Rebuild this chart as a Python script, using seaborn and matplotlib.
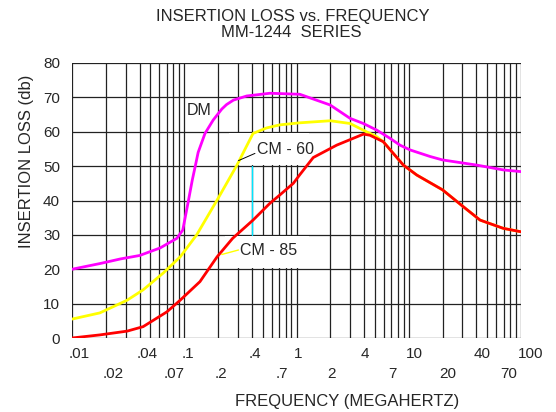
import pandas as pd
import seaborn as sns
import matplotlib.pyplot as plt
from matplotlib.transforms import ScaledTranslation

# values (frequency in MHz, loss in dB)
dm_freq = [0.01, 0.018, 0.027, 0.04, 0.061, 0.086, 0.097, 0.109, 0.118, 0.125, 0.133, 0.153,
           0.181, 0.216, 0.238, 0.274, 0.36, 0.58, 1.07, 1.99, 3.0, 3.94, 5.17, 6.8, 8.36,
           10.3, 15.5, 20, 40.3, 69.5, 100]
dm_loss = [20, 21.7, 23, 24, 26.2, 29, 31.4, 40, 46, 49.8, 54, 59.5,
           63.4, 66.6, 67.9, 69.2, 70.4, 71.2, 70.9, 67.8, 63.9, 62.4, 60.5, 58.1, 56.1,
           54.7, 52.8, 51.8, 50.3, 48.9, 48.4]

cm60_freq = [0.01, 0.0177, 0.031, 0.043, 0.065, 0.092, 0.129, 0.196, 0.295, 0.345, 0.41, 0.54,
             0.71, 1.07, 2.0, 3.0, 4.2, 5.17, 5.93, 8.95, 11.8, 20, 30.6, 43.2, 69.5, 100]
cm60_loss = [5.5, 7.3, 11, 14, 18.9, 23.6, 30, 40.1, 50.3, 54.7, 59.5, 61.1,
             62, 62.6, 63.2, 62.4, 60, 58.6, 57.1, 50.3, 47.4, 43.1, 38.2, 34.3, 31.9, 30.9]

cm85_freq = [0.01, 0.0177, 0.031, 0.043, 0.07, 0.092, 0.138, 0.196, 0.27, 0.41, 0.58, 0.71,
             0.937, 1.07, 1.41, 2.28, 3.94, 4.5, 5.93, 8.95, 11.8, 20, 30.6, 43.2, 69.5, 100]
cm85_loss = [0, 0.9, 2, 3.3, 7.6, 11, 16.4, 23.6, 29, 34.3, 39.2, 41.6,
             45, 47.5, 52.5, 56.1, 59.3, 59, 57.1, 50.3, 47.4, 43.1, 38.2, 34.3, 31.9, 30.9]

series_names = ["DM", "CM - 60", "CM - 85"]
series_colors = ["#ff00ff", "#ffff00", "#ff0000"]

top_ticks = [0.01, 0.04, 0.1, 0.4, 1, 4, 10, 40, 100]
top_labels = [".01", ".04", ".1", ".4", "1", "4", "10", "40", "100"]
bottom_ticks = [0.02, 0.07, 0.2, 0.7, 2, 7, 20, 70]
bottom_labels = [".02", ".07", ".2", ".7", "2", "7", "20", "70"]
y_ticks = list(range(0, 81, 10))

# label boxes (white patches that hide the grid behind the series labels)
box60_x, box60_y = [0.25, 1.3], [50.4, 59.6]
box85_x, box85_y = [0.23, 1.3], [20.4, 29.6]
cyan_x, cyan_y = [0.4, 0.4], [30, 50]
lead60_x, lead60_y = [0.304, 0.4265], [51.6, 53.7]
lead85_x, lead85_y = [0.216, 0.304], [24.3, 25.6]

df = pd.concat([
    pd.DataFrame({"freq": dm_freq, "loss": dm_loss, "series": "DM"}),
    pd.DataFrame({"freq": cm60_freq, "loss": cm60_loss, "series": "CM - 60"}),
    pd.DataFrame({"freq": cm85_freq, "loss": cm85_loss, "series": "CM - 85"}),
])

sns.set_style("white")
plt.rcParams["font.family"] = ["Liberation Sans", "DejaVu Sans"]

fig = plt.figure(figsize=(5.56, 4.12), dpi=100)
ax = fig.add_axes([72 / 556, 1 - 338 / 412, 449 / 556, 275 / 412])
ax.set_xscale("log")

# grid: every 1..9 multiple per decade
for dec in [0.01, 0.1, 1, 10]:
    for m in range(1, 10):
        ax.axvline(dec * m, color="#222222", lw=0.9, zorder=1)
ax.axvline(100, color="#222222", lw=0.9, zorder=1)
for yv in y_ticks:
    ax.axhline(yv, color="#222222", lw=0.9, zorder=1)

ax.fill_between(box60_x, box60_y[0], box60_y[1], color="white", lw=0, zorder=1.5)
ax.fill_between(box85_x, box85_y[0], box85_y[1], color="white", lw=0, zorder=1.5)
ax.plot(cyan_x, cyan_y, color="#00e5ff", lw=1.0, zorder=2)

sns.lineplot(data=df, x="freq", y="loss", hue="series", hue_order=series_names,
             palette=series_colors, estimator=None, sort=False, legend=False,
             lw=2.0, ax=ax, zorder=3)

ax.plot(lead60_x, lead60_y, color="black", lw=0.7, zorder=4)
ax.plot(lead85_x, lead85_y, color="#ffff00", lw=1.0, zorder=4)
ax.text(0.105, 66.2, "DM", fontsize=11.5, va="center", ha="left", zorder=5)
ax.text(0.442, 54.9, "CM - 60", fontsize=11.5, va="center", ha="left", zorder=5)
ax.text(0.314, 25.5, "CM - 85", fontsize=11.5, va="center", ha="left", zorder=5)

ax.set_xlim(0.01, 100)
ax.set_ylim(0, 80)
ax.set_xticks(top_ticks, labels=top_labels)
ax.set_xticks(bottom_ticks, labels=bottom_labels, minor=True)
ax.set_yticks(y_ticks)
ax.tick_params(axis="x", which="major", length=5.8, width=1, color="#404040",
               labelsize=11, pad=0.5)
ax.tick_params(axis="x", which="minor", length=20.7, width=1, color="#404040",
               labelsize=11, pad=0.5)
ax.tick_params(axis="y", length=7.2, width=1, color="#404040", labelsize=11, pad=1.4)
for s in ax.spines.values():
    s.set_visible(False)

shift = ScaledTranslation(-3 / 100, 0, fig.dpi_scale_trans)
for lbl in ax.get_xticklabels() + ax.get_xticklabels(minor=True):
    lbl.set_ha("left")
    lbl.set_transform(lbl.get_transform() + shift)

ax.set_xlabel("FREQUENCY (MEGAHERTZ)", fontsize=12)
ax.xaxis.set_label_coords(0.612, -0.205)
ax.set_ylabel("INSERTION LOSS (db)", fontsize=12)
ax.yaxis.set_label_coords(-0.084, 0.644)

fig.text(0.527, 1 - 20.7 / 412, "INSERTION LOSS vs. FREQUENCY", fontsize=12,
         ha="center", va="baseline")
fig.text(0.523, 1 - 37.3 / 412, "MM-1244  SERIES", fontsize=12,
         ha="center", va="baseline")

plt.savefig("out.png", dpi=100)
